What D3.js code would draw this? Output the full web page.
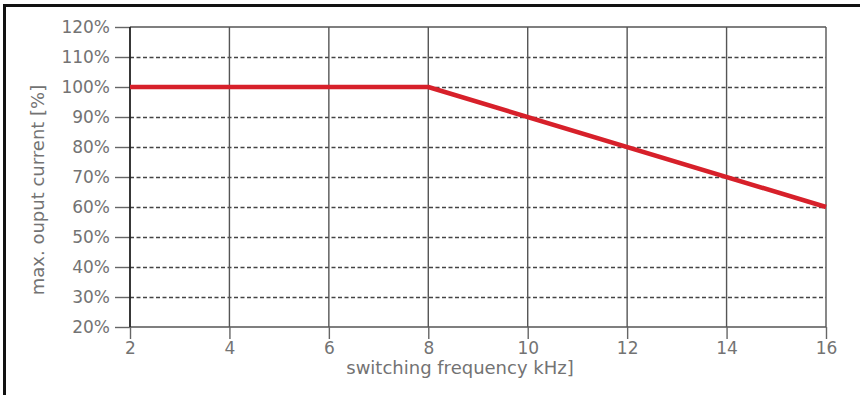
<!DOCTYPE html>
<html><head><meta charset="utf-8">
<script src="https://cdn.jsdelivr.net/npm/d3@7"></script>
<style>
html,body{margin:0;padding:0;background:#fff;}
svg{display:block;}
text{font-family:"DejaVu Sans","Liberation Sans",Arial,sans-serif;}
</style></head>
<body>
<svg id="chart" width="861" height="395"></svg>
<script>
const freqKHz = [2, 8, 16];
const maxCurrentPct = [100, 100, 60];
const xTicks = [2, 4, 6, 8, 10, 12, 14, 16];
const yTicks = [20, 30, 40, 50, 60, 70, 80, 90, 100, 110, 120];
const xLabel = "switching frequency kHz]";
const yLabel = "max. ouput current [%]";

const svg = d3.select("#chart");
const W = 861, H = 395;
const m = {left:130, right:826, top:27, bottom:327};

// outer black border (left + top)
svg.append("rect").attr("x",3).attr("y",4).attr("width",3).attr("height",H-4).attr("fill","#111");
svg.append("rect").attr("x",3).attr("y",4).attr("width",W-4).attr("height",3).attr("fill","#111");

const x = d3.scaleLinear().domain([2,16]).range([m.left, m.right]);
const y = d3.scaleLinear().domain([20,120]).range([m.bottom, m.top]);

const textColor = "#737373";

// horizontal grid (dashed)
svg.append("g").selectAll("line").data(yTicks.filter(t=>t>20 && t<120)).join("line")
  .attr("x1", m.left).attr("x2", m.right)
  .attr("y1", d=>y(d)+0.5).attr("y2", d=>y(d)+0.5)
  .attr("stroke","#444").attr("stroke-width",1.4).attr("stroke-dasharray","4,2.5");

// vertical grid
svg.append("g").selectAll("line").data(xTicks.filter(t=>t>2)).join("line")
  .attr("x1", d=>x(d)).attr("x2", d=>x(d))
  .attr("y1", m.top).attr("y2", m.bottom)
  .attr("stroke","#555").attr("stroke-width",1.4);

// top and bottom frame lines
[120,20].forEach(v=>{
  svg.append("line").attr("x1",m.left).attr("x2",m.right)
    .attr("y1",y(v)).attr("y2",y(v)).attr("stroke","#555").attr("stroke-width",1.4);
});

// Y axis
const yAxis = d3.axisLeft(y).tickValues(yTicks).tickFormat(d=>d+"%").tickSize(15).tickPadding(5);
const gy = svg.append("g").attr("transform",`translate(${m.left},0)`).call(yAxis);
gy.select(".domain").remove();
gy.selectAll(".tick line").attr("stroke","#666").attr("stroke-width",1.4);
gy.selectAll(".tick text").attr("fill",textColor).attr("font-size",17)
  .attr("font-family","'DejaVu Sans',sans-serif");

// X axis
const xAxis = d3.axisBottom(x).tickValues(xTicks).tickSize(12).tickPadding(3);
const gx = svg.append("g").attr("transform",`translate(0,${m.bottom})`).call(xAxis);
gx.select(".domain").remove();
gx.selectAll(".tick line").attr("stroke","#666").attr("stroke-width",1.4);
gx.selectAll(".tick text").attr("fill",textColor).attr("font-size",17)
  .attr("font-family","'DejaVu Sans',sans-serif");

// left axis line (darker)
svg.append("line").attr("x1",m.left).attr("x2",m.left).attr("y1",m.top).attr("y2",m.bottom)
  .attr("stroke","#222").attr("stroke-width",1.8);

// data line
const line = d3.line().x(d=>x(d[0])).y(d=>y(d[1]));
svg.append("path").datum(freqKHz.map((f,i)=>[f, maxCurrentPct[i]]))
  .attr("d", line).attr("fill","none").attr("stroke","#d7202a").attr("stroke-width",4.5)
  .attr("stroke-linejoin","round");

// axis labels
svg.append("text").attr("x",460).attr("y",374).attr("text-anchor","middle")
  .attr("fill",textColor).attr("font-size",18).text(xLabel);
svg.append("text").attr("transform","translate(44,190) rotate(-90)").attr("text-anchor","middle")
  .attr("fill",textColor).attr("font-size",18).text(yLabel);
</script>
</body></html>
